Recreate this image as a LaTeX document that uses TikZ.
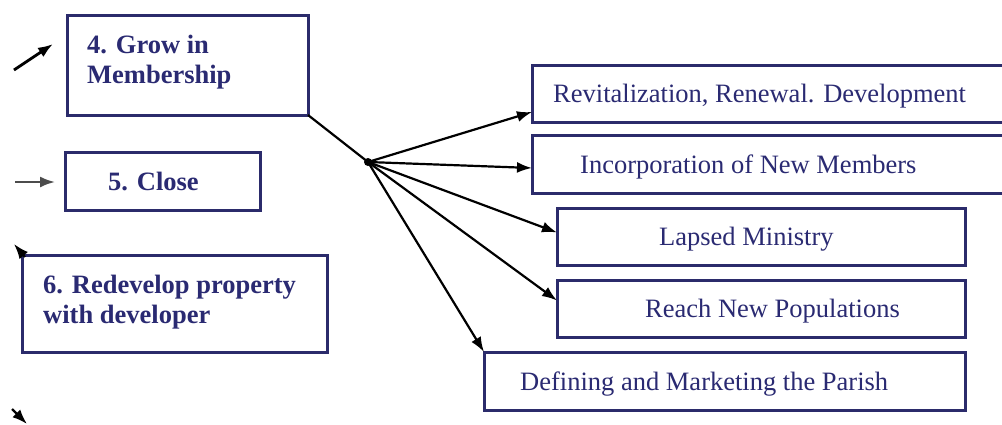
\documentclass[tikz,border=0pt]{standalone}
\usepackage{fontspec}
\setmainfont{Liberation Serif}
\usetikzlibrary{arrows.meta,calc}
\definecolor{navy}{HTML}{2B2B6B}
\definecolor{txtblue}{HTML}{2A2A72}
\begin{document}
\begin{tikzpicture}[x=1pt,y=-1pt,
  box/.style={draw=navy,line width=3pt,inner sep=0pt,outer sep=0pt,rectangle,fill=white},
  lbl/.style={text=txtblue,inner sep=0pt,anchor=base west,font=\fontsize{26.5}{29}\selectfont},
  blbl/.style={text=txtblue,inner sep=0pt,anchor=base west,align=left,font=\bfseries\fontsize{26.5}{29.5}\selectfont},
  arr/.style={-{Latex[length=15pt,width=11pt]},line width=2.2pt,draw=black},
]
\useasboundingbox (0,0) rectangle (1002,424);
\clip (0,0) rectangle (1002,424);
\fill[white] (0,0) rectangle (1002,424);
% boxes
\node[box,minimum width=241pt,minimum height=100pt] (g4) at (187.5,65) {};
\node[box,minimum width=195pt,minimum height=58pt] (g5) at (162.5,181) {};
\node[box,minimum width=305pt,minimum height=97pt] (g6) at (174.5,303.5) {};
\node[box,minimum width=480pt,minimum height=57pt] (r1) at (772,93.5) {};
\node[box,minimum width=480pt,minimum height=58pt] (r2) at (772,164) {};
\node[box,minimum width=408pt,minimum height=57pt] (r3) at (761,236.5) {};
\node[box,minimum width=408pt,minimum height=57pt] (r4) at (761,308.5) {};
\node[box,minimum width=481pt,minimum height=58pt] (r5) at (724.5,381) {};
% texts
\node[blbl] (t4) at (87,83) {4. Grow in\\Membership};
\node[blbl] (t5) at (108,190) {5. Close};
\node[blbl] (t6) at (43,323) {6. Redevelop property\\with developer};
\node[lbl] (tr1) at (553,102) {Revitalization, Renewal. Development};
\node[lbl] (tr2) at (580,173) {Incorporation of New Members};
\node[lbl] (tr3) at (659,245.5) {Lapsed Ministry};
\node[lbl] (tr4) at (645,317.5) {Reach New Populations};
\node[lbl] (tr5) at (520,390) {Defining and Marketing the Parish};
% hub
\node[circle,fill=black,inner sep=0pt,minimum size=8pt] (hub) at (368,162) {};
\draw[line width=2.2pt] (g4.south east) -- (hub.center);
\draw[arr] (hub.center) -- ($(r1.south west)+(0,-10)$);
\draw[arr] (hub.center) -- ($(r2.west)+(0,4)$);
\draw[arr] (hub.center) -- ($(r3.west)+(0,-4)$);
\draw[arr] (hub.center) -- ($(r4.west)+(0,-8)$);
\draw[arr] (hub.center) -- (r5.north west);
% stray arrows
\coordinate (a1s) at (14,70); \coordinate (a1e) at (53,44);
\draw[arr,line width=2.8pt] (a1s) -- (a1e);
\coordinate (a2s) at (15,182); \coordinate (a2e) at (55,182);
\draw[arr,draw=black!70] (a2s) -- (a2e);
\coordinate (a3s) at (25,257); \coordinate (a3e) at (14,244);
\draw[arr] (a3s) -- (a3e);
\coordinate (a4s) at (12,409); \coordinate (a4e) at (27,424);
\draw[arr] (a4s) -- (a4e);
\end{tikzpicture}
\end{document}
